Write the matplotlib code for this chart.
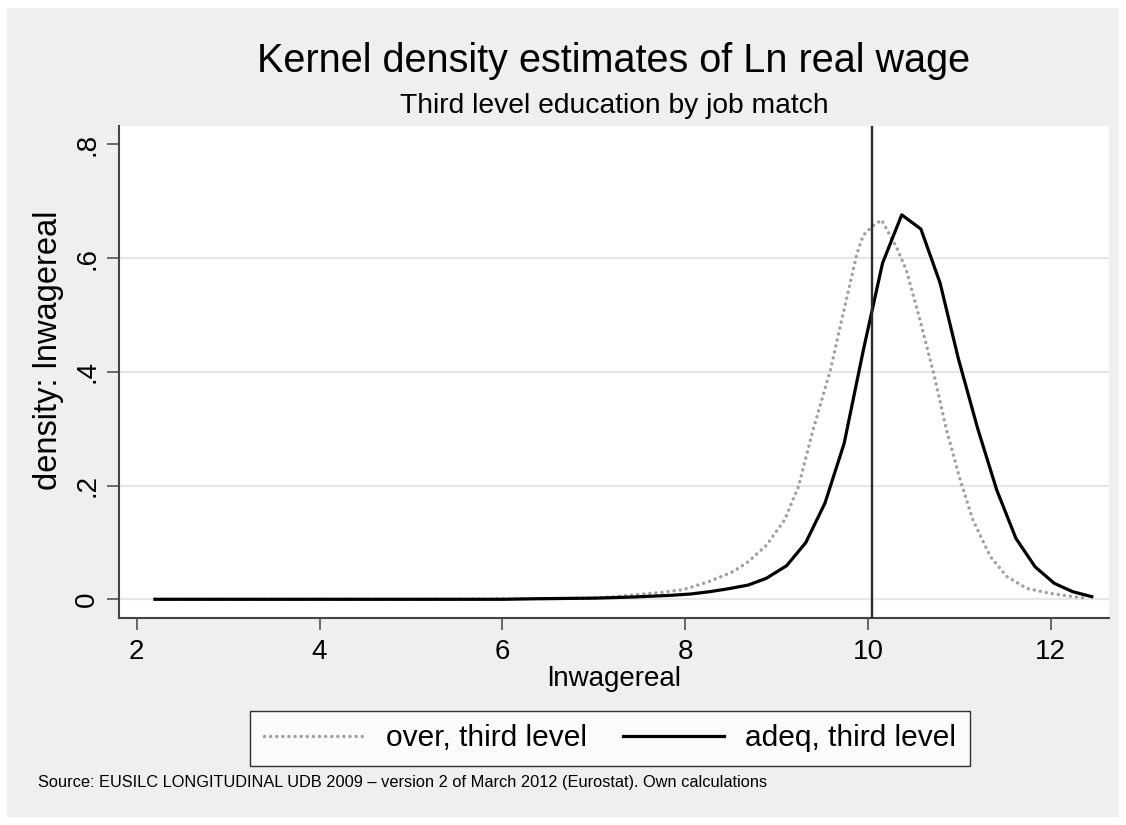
import matplotlib
matplotlib.use('Agg')
import matplotlib.pyplot as plt
from matplotlib.patches import Rectangle

# kernel density, overeducated with third level education
over_x = [2.2, 3.0, 4.0, 5.0, 5.8, 6.4, 6.9, 7.2, 7.43, 7.75, 7.98, 8.16, 8.26, 8.53,
          8.69, 8.89, 9.09, 9.24, 9.40, 9.59, 9.73, 9.88, 9.95, 10.05, 10.15, 10.31,
          10.42, 10.57, 10.72, 10.86, 11.01, 11.15, 11.34, 11.52, 11.74, 11.99, 12.25, 12.40]
over_y = [0.0, 0.0, 0.0, 0.0, 0.0005, 0.001, 0.002, 0.004, 0.0076, 0.0123, 0.017, 0.026,
          0.031, 0.049, 0.066, 0.095, 0.140, 0.198, 0.298, 0.403, 0.503, 0.608, 0.640,
          0.656, 0.667, 0.620, 0.579, 0.491, 0.397, 0.298, 0.210, 0.139, 0.075, 0.040,
          0.019, 0.0105, 0.0046, 0.0018]

# kernel density, adequately matched with third level education
adeq_x = [2.2, 3.0, 4.0, 5.0, 6.0, 6.39, 7.01, 7.22, 7.43, 7.64, 7.85, 8.06, 8.27, 8.48,
          8.69, 8.89, 9.11, 9.32, 9.53, 9.74, 9.95, 10.16, 10.37, 10.58, 10.79, 10.99,
          11.20, 11.41, 11.62, 11.83, 12.04, 12.24, 12.45]
adeq_y = [0.0, 0.0, 0.0, 0.0, 0.0, 0.001, 0.002, 0.003, 0.004, 0.0055, 0.007, 0.0093,
          0.0134, 0.0187, 0.025, 0.037, 0.059, 0.0996, 0.169, 0.274, 0.438, 0.591, 0.676,
          0.651, 0.556, 0.423, 0.301, 0.192, 0.107, 0.057, 0.028, 0.0134, 0.0046]

mean_line = 10.05
xticks = [2, 4, 6, 8, 10, 12]
yticks = [0, 0.2, 0.4, 0.6, 0.8]
ytick_labels = ['0', '.2', '.4', '.6', '.8']
grid_y = [0, 0.2, 0.4, 0.6]
series_labels = ['over, third level', 'adeq, third level']

plt.rcParams['font.family'] = ['Liberation Sans', 'DejaVu Sans']

W, H = 1126, 825
fig = plt.figure(figsize=(W / 100, H / 100), dpi=100, facecolor='white')
fig.patches.append(Rectangle((7 / W, 8 / H), 1 - 14 / W, 1 - 16 / H,
                             transform=fig.transFigure, facecolor='#efefef',
                             edgecolor='none', zorder=-10))

ax = fig.add_axes([119 / W, 1 - 618 / H, (1109 - 119) / W, (618 - 126) / H])
ax.set_facecolor('white')
ax.set_xlim(1.806, 12.638)
ax.set_ylim(-0.0329, 0.8322)

for y in grid_y:
    ax.axhline(y, color='#e6e6e6', lw=1.6, zorder=0)

ax.plot(over_x, over_y, color='#a0a0a0', lw=2.5, linestyle=(0, (0.01, 1.75)),
        dash_capstyle='round', label=series_labels[0], zorder=3)
ax.plot(adeq_x, adeq_y, color='black', lw=2.3, label=series_labels[1], zorder=4)
ax.axvline(mean_line, color='#2a2a2a', lw=1.7, zorder=5)

for s in ['top', 'right']:
    ax.spines[s].set_visible(False)
for s in ['left', 'bottom']:
    ax.spines[s].set_color('#444444')
    ax.spines[s].set_linewidth(1.5)

ax.set_xticks(xticks)
ax.set_yticks(yticks)
ax.set_yticklabels(ytick_labels)
ax.tick_params(axis='both', direction='out', length=8.5, width=1.1, color='#444444',
               labelsize=20, pad=5)
ax.tick_params(axis='x', pad=6.5)
ax.tick_params(axis='y', labelrotation=90)
for lab in ax.get_yticklabels():
    lab.set_va('center')

ax.set_xlabel('lnwagereal', fontsize=20, labelpad=1)
ax.set_ylabel('density: lnwagereal', fontsize=23.5)
ax.yaxis.set_label_coords(-55 / (1109 - 119) - 0.0, 0.545)

fig.text(614 / W, 1 - 72 / H, 'Kernel density estimates of Ln real wage',
         ha='center', va='baseline', fontsize=28.5)
fig.text(614 / W, 1 - 113 / H, 'Third level education by job match',
         ha='center', va='baseline', fontsize=20.3)

leg = fig.legend(loc='center', bbox_to_anchor=(610 / W, 1 - 738.5 / H), ncol=2,
                 fontsize=21.5, frameon=True, fancybox=False, handlelength=3.4,
                 handletextpad=0.7, columnspacing=1.2, borderpad=0.45)
leg.get_frame().set_edgecolor('black')
leg.get_frame().set_linewidth(1.0)

fig.text(38 / W, 1 - 782 / H,
         'Source: EUSILC LONGITUDINAL UDB 2009 \u2013 version 2 of March 2012 (Eurostat). Own calculations',
         ha='left', va='center', fontsize=11.8)

fig.savefig('out.png', dpi=100, facecolor=fig.get_facecolor())
